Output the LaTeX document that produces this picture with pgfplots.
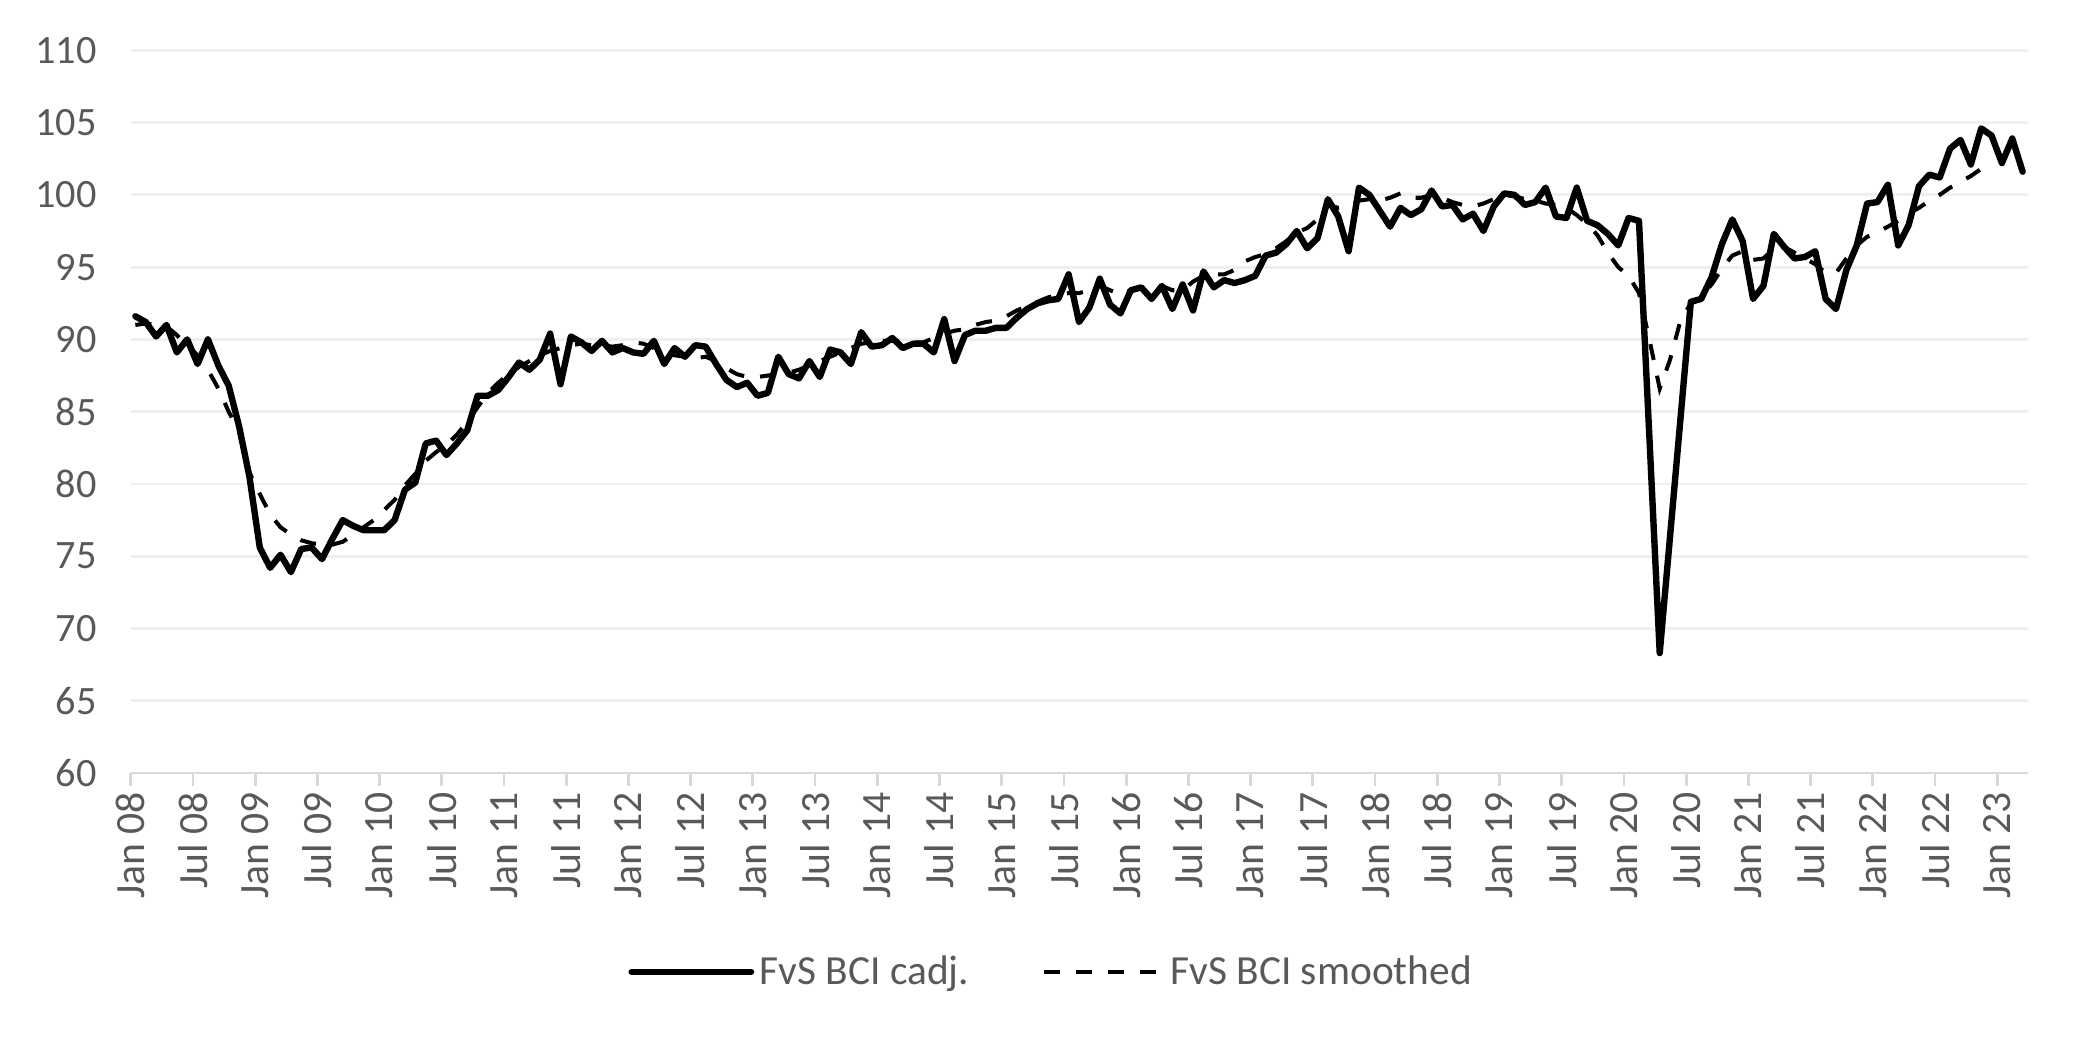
\documentclass[border=0pt]{standalone}
\usepackage{fontspec}
\setmainfont{Carlito}
\usepackage{pgfplots}
\usepackage{pgfplotstable}
\pgfplotsset{compat=1.18}

\definecolor{txt}{HTML}{595959}
\definecolor{gridc}{HTML}{EFEFEF}
\definecolor{axc}{HTML}{D9D9D9}

% Monthly business climate index, month 0 = Jan 2008 (observations dated mid-month)
\pgfplotstableread{
m cadj smooth
0 91.6 91.0
1 91.2 91.1
2 90.2 91.0
3 91.0 90.9
4 89.1 90.3
5 90.0 89.6
6 88.3 88.9
7 90.0 87.9
8 88.2 86.6
9 86.8 85.0
10 84.0 83.6
11 80.5 80.8
12 75.6 79.3
13 74.2 77.9
14 75.1 77.0
15 73.9 76.5
16 75.5 76.1
17 75.6 75.9
18 74.8 75.8
19 76.2 75.8
20 77.5 76.0
21 77.1 76.5
22 76.8 77.0
23 76.8 77.5
24 76.8 78.2
25 77.5 78.9
26 79.6 79.9
27 80.1 80.7
28 82.8 81.6
29 83.0 82.2
30 82.0 82.7
31 82.8 83.4
32 83.7 84.3
33 86.1 85.3
34 86.1 86.3
35 86.5 87.0
36 87.4 87.6
37 88.4 88.1
38 87.9 88.5
39 88.6 88.9
40 90.4 89.2
41 86.9 89.4
42 90.2 89.6
43 89.8 89.7
44 89.2 89.6
45 89.9 89.6
46 89.1 89.5
47 89.4 89.6
48 89.1 89.8
49 89.0 89.7
50 89.9 89.4
51 88.3 89.1
52 89.4 88.9
53 88.8 88.8
54 89.6 88.7
55 89.5 88.8
56 88.3 88.5
57 87.2 88.0
58 86.7 87.6
59 87.0 87.4
60 86.1 87.4
61 86.3 87.5
62 88.8 87.6
63 87.6 87.7
64 87.3 87.9
65 88.5 88.2
66 87.4 88.5
67 89.3 88.8
68 89.1 89.1
69 88.3 89.4
70 90.5 89.7
71 89.5 89.8
72 89.6 89.9
73 90.1 89.9
74 89.4 89.9
75 89.7 89.8
76 89.7 89.8
77 89.1 90.1
78 91.4 90.4
79 88.5 90.6
80 90.3 90.7
81 90.6 91.0
82 90.6 91.2
83 90.8 91.3
84 90.8 91.6
85 91.5 92.0
86 92.1 92.3
87 92.5 92.6
88 92.7 92.9
89 92.8 93.1
90 94.5 93.2
91 91.2 93.2
92 92.2 93.4
93 94.2 93.7
94 92.4 93.4
95 91.8 93.1
96 93.4 93.4
97 93.6 93.6
98 92.8 93.7
99 93.7 93.7
100 92.1 93.4
101 93.8 93.4
102 92.0 94.0
103 94.7 94.4
104 93.6 94.5
105 94.1 94.5
106 93.9 94.8
107 94.1 95.4
108 94.4 95.7
109 95.8 95.9
110 96.0 96.3
111 96.6 96.8
112 97.5 97.4
113 96.3 97.7
114 97.0 98.3
115 99.7 99.3
116 98.5 99.1
117 96.1 99.2
118 100.5 99.6
119 100.0 99.7
120 98.9 99.6
121 97.8 99.8
122 99.1 100.1
123 98.6 99.8
124 99.0 99.8
125 100.3 100.0
126 99.2 99.8
127 99.3 99.5
128 98.3 99.3
129 98.7 99.2
130 97.5 99.4
131 99.2 99.7
132 100.1 100.0
133 100.0 99.9
134 99.3 99.7
135 99.5 99.6
136 100.5 99.4
137 98.5 99.3
138 98.4 99.1
139 100.5 98.6
140 98.2 98.0
141 97.9 97.2
142 97.3 96.0
143 96.5 95.0
144 98.4 94.4
145 98.2 93.2
146 83.3 90.0
147 68.3 86.6
148 76.4 88.6
149 84.5 91.3
150 92.6 92.5
151 92.8 93.0
152 94.3 93.8
153 96.6 94.9
154 98.3 95.8
155 96.8 96.1
156 92.8 95.5
157 93.7 95.6
158 97.3 96.3
159 96.4 96.4
160 95.6 96.0
161 95.7 95.6
162 96.1 95.2
163 92.8 94.6
164 92.1 94.6
165 94.8 95.6
166 96.5 96.5
167 99.4 97.1
168 99.5 97.4
169 100.7 97.8
170 96.5 98.2
171 97.9 98.7
172 100.6 99.1
173 101.4 99.6
174 101.2 100.0
175 103.2 100.5
176 103.8 100.9
177 102.1 101.3
178 104.6 101.8
179 104.1 nan
180 102.2 nan
181 103.9 nan
182 101.6 nan
}\bci

\begin{document}
\begin{tikzpicture}
\begin{axis}[
  scale only axis,
  width=683.2pt, height=260.2pt,
  xmin=0, xmax=183, ymin=60, ymax=110,
  axis x line*=bottom, axis y line*=left,
  y axis line style={draw=none},
  x axis line style={draw=axc, line width=1pt},
  tick align=outside,
  major tick length=4.7pt,
  xtick={0,6,...,180},
  xticklabels={Jan 08,Jul 08,Jan 09,Jul 09,Jan 10,Jul 10,Jan 11,Jul 11,Jan 12,Jul 12,Jan 13,Jul 13,Jan 14,Jul 14,Jan 15,Jul 15,Jan 16,Jul 16,Jan 17,Jul 17,Jan 18,Jul 18,Jan 19,Jul 19,Jan 20,Jul 20,Jan 21,Jul 21,Jan 22,Jul 22,Jan 23},
  xtick style={draw=axc, line width=1pt},
  ytick={60,65,...,110},
  ytick style={draw=none},
  ymajorgrids,
  grid style={draw=gridc, line width=1pt},
  /pgf/number format/assume math mode=true,
  xticklabel style={font=\fontsize{15}{18}\selectfont, text=txt, rotate=90, anchor=east, inner sep=2pt},
  yticklabel style={font=\fontsize{14.5}{17}\selectfont, text=txt, anchor=east, xshift=-4pt},
  legend style={
    at={(0.486,-0.275)}, anchor=center,
    draw=none, fill=none,
    legend columns=2,
    font=\fontsize{14.9}{17}\selectfont, text=txt,
    /tikz/every even column/.append style={column sep=24pt},
  },
  legend cell align=left,
  legend image code/.code={\draw[#1] (0pt,0pt) -- (43pt,0pt);},
]
\addplot[black, line width=2.3pt, line join=round, line cap=round]
  table[x expr=\thisrow{m}+0.45, y=cadj] {\bci};
\addlegendentry{FvS BCI cadj.}
\addplot[black, line width=1.45pt, dash pattern=on 5.8pt off 5.8pt]
  table[x expr=\thisrow{m}+0.45, y=smooth] {\bci};
\addlegendentry{FvS BCI smoothed}
\end{axis}
\pgfresetboundingbox
\path ([shift={(-47.05pt,-95.74pt)}]current axis.south west) rectangle ([shift={(18.24pt,18.11pt)}]current axis.north east);
\end{tikzpicture}
\end{document}
